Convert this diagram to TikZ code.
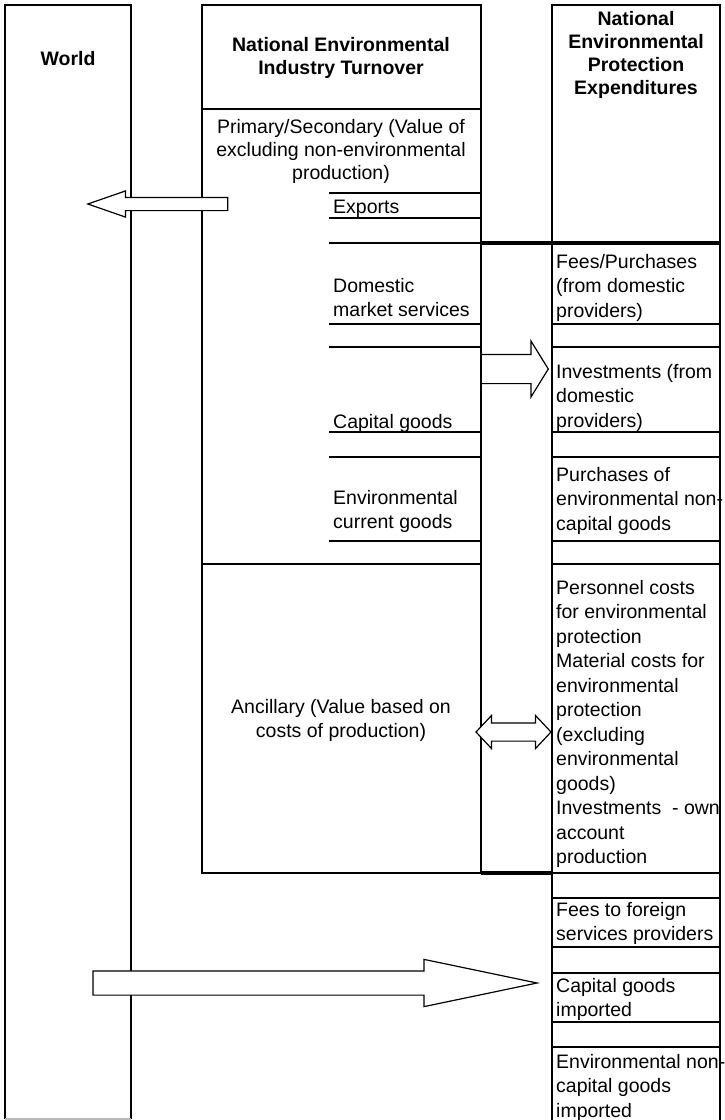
\documentclass[tikz,border=0pt]{standalone}
\usepackage{fontspec}
\setmainfont{Liberation Sans}
\usepackage{tikz}
\usetikzlibrary{shapes.arrows}

\newcommand\cellfont{\fontsize{19.5}{24.5}\selectfont}
\newcommand\tightfont{\fontsize{19.5}{23}\selectfont}
\newcommand\headfont{\fontsize{19.5}{23}\selectfont\bfseries}

\begin{document}
\begin{tikzpicture}[
  x=1pt, y=-1pt,
  frame/.style={line width=2.8pt},
  rowline/.style={line width=2.2pt},
  thickline/.style={line width=3.4pt},
  cell/.style={anchor=north west, inner sep=0pt, align=left, font=\cellfont},
  centred/.style={anchor=north, inner sep=0pt, align=center, font=\cellfont},
  head/.style={anchor=north, inner sep=0pt, align=center, font=\headfont},
  block/.style={draw, fill=white, line width=1.2pt, inner xsep=0pt}
]
\useasboundingbox (0,0) rectangle (725,1120);

% world column
\draw[frame] (5,1119) -- (5,5) -- (131,5) -- (131,1119);
\draw[gray!55, line width=1.5pt] (5,1119) -- (131,1119);
\node[anchor=base, inner sep=0pt, font=\headfont] (world) at (68,65) {World};

% industry turnover
\draw[frame] (202,5) rectangle (481,873);
\draw[rowline] (202,109) -- (481,109);
\draw[rowline] (202,564) -- (481,564);
\foreach \y in {193,218,243,324,347,432,457,541}
  \draw[rowline] (329,\y) -- (481,\y);

% protection expenditures
\draw[frame] (552,1120) -- (552,5) -- (720,5) -- (720,1120);
\foreach \y in {324,347,432,457,541,564,873,898,947,973,1022,1047}
  \draw[rowline] (552,\y) -- (720,\y);

% link column
\draw[thickline] (481,243) -- (720,243);
\draw[thickline] (481,873) -- (552,873);

\node[head] (turnover) at (341,35) {\strut National Environmental\\Industry Turnover};
\node[head] (expend) at (636,9) {\strut National\\Environmental\\Protection\\Expenditures};
\node[centred, font=\tightfont] (primary) at (341,117)
  {\strut Primary/Secondary (Value of\\excluding non-environmental\\production)};
\node[centred] (ancillary) at (341,696) {\strut Ancillary (Value based on\\costs of production)};

\node[cell] (exports) at (333,196) {\strut Exports};
\node[cell] (domestic) at (333,275) {\strut Domestic\\market services};
\node[cell] (capital) at (333,411) {\strut Capital goods};
\node[cell] (current) at (333,487) {\strut Environmental\\current goods};

\node[cell] (fees) at (556,251) {\strut Fees/Purchases\\(from domestic\\providers)};
\node[cell] (invest) at (556,361) {\strut Investments (from\\domestic\\providers)};
\node[cell] (purch) at (556,464) {\strut Purchases of\\environmental non-\\capital goods};
\node[cell] (costs) at (556,577) {\strut Personnel costs\\for environmental\\protection\\Material costs for\\environmental\\protection\\(excluding\\environmental\\goods)\\Investments~ - own\\account\\production};
\node[cell] (foreign) at (556,899) {\strut Fees to foreign\\services providers};
\node[cell] (capimp) at (556,975) {\strut Capital goods\\imported};
\node[cell] (envimp) at (556,1051) {\strut Environmental non-\\capital goods\\imported};

% block arrows
\node[block, single arrow, shape border rotate=180, anchor=tip,
  minimum height=140pt, inner ysep=6pt, single arrow head extend=6.5pt,
  single arrow tip angle=38.3] (toworld) at (86,204) {};
\node[block, single arrow, anchor=tip,
  minimum height=67pt, inner ysep=14pt, single arrow head extend=13.5pt,
  single arrow tip angle=116.5] (todomestic) at (549,369) {};
\node[block, double arrow, anchor=center,
  minimum height=75pt, inner ysep=8.5pt, double arrow head extend=7.5pt,
  double arrow tip angle=93.6] (ownaccount) at (513.5,732) {};
\node[block, single arrow, anchor=tip,
  minimum height=444pt, inner ysep=11.5pt, single arrow head extend=11.5pt,
  single arrow tip angle=23.6] (imports) at (540,983) {};
\end{tikzpicture}
\end{document}
